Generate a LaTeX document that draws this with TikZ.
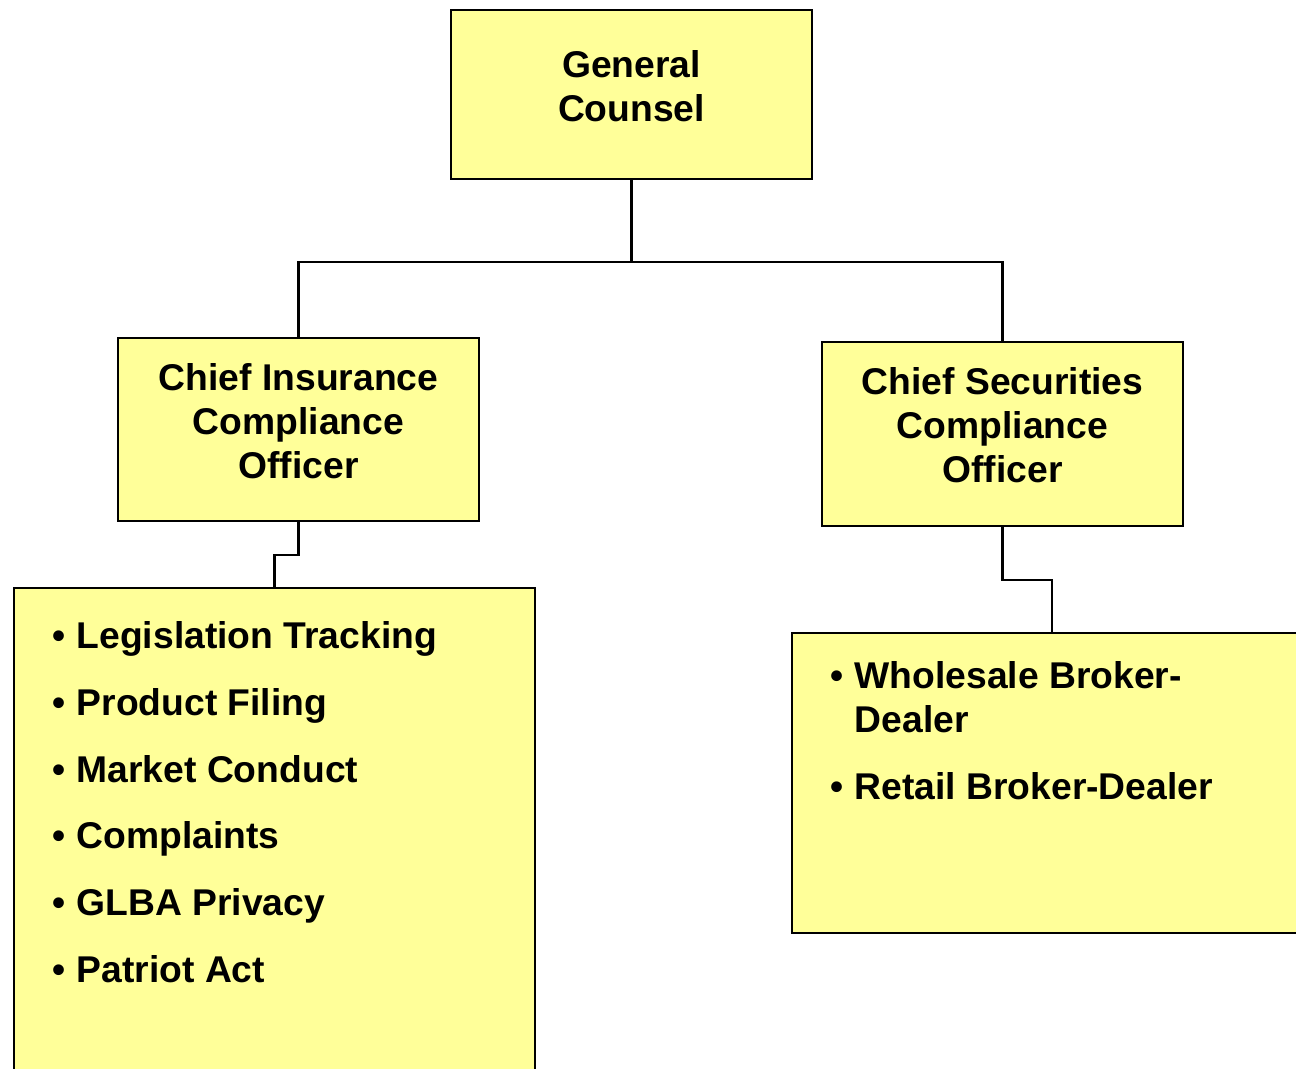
\documentclass[tikz,border=0pt]{standalone}
\usepackage{fontspec}
\setmainfont{Liberation Sans}
\usetikzlibrary{calc}

\definecolor{boxyellow}{HTML}{FFFF99}
\newcommand{\chartfont}{\bfseries\fontsize{10.6pt}{12.5pt}\selectfont}

\tikzset{
  officebox/.style={draw=black, fill=boxyellow, line width=0.6pt, align=center,
    minimum width=3.61cm, inner sep=0pt, text depth=5pt, font=\chartfont},
  listbox/.style={draw=black, fill=boxyellow, line width=0.6pt, inner sep=0pt},
  listtext/.style={anchor=base west, inner sep=0pt, align=left, font=\chartfont},
  link/.style={draw=black, line width=0.6pt}
}

\begin{document}
\begin{tikzpicture}[y=-1cm]
\useasboundingbox (0,0) rectangle (12.96,10.69);
\clip (0,0) rectangle (12.96,10.69);
% the three offices
\node[officebox, minimum height=1.69cm] (gc) at (6.315,0.945) {General\\Counsel};
\node[officebox, minimum height=1.83cm] (cico) at (2.985,4.295) {Chief Insurance\\Compliance\\Officer};
\node[officebox, minimum height=1.84cm] (csco) at (10.025,4.34) {Chief Securities\\Compliance\\Officer};
% duty lists
\node[listbox, minimum width=5.21cm, minimum height=5.12cm] (listL) at (2.745,8.44) {};
\node[listbox, minimum width=5.20cm, minimum height=3.00cm] (listR) at (10.52,7.83) {};
\node[listtext] (itemsL) at (0.52,6.485) {%
  \begin{tabular}[t]{@{}p{0.24cm}@{}l@{}}
  \textbullet & Legislation Tracking\\[6.5pt]
  \textbullet & Product Filing\\[6.5pt]
  \textbullet & Market Conduct\\[6.5pt]
  \textbullet & Complaints\\[6.5pt]
  \textbullet & GLBA Privacy\\[6.5pt]
  \textbullet & Patriot Act
  \end{tabular}};
\node[listtext] (itemsR) at (8.30,6.89) {%
  \begin{tabular}[t]{@{}p{0.24cm}@{}l@{}}
  \textbullet & Wholesale Broker-\\
              & Dealer\\[6.5pt]
  \textbullet & Retail Broker-Dealer
  \end{tabular}};
% connectors
\coordinate (split) at ($(gc.south)+(0,0.82)$);
\draw[link] (gc.south) -- (split) -| (cico.north);
\draw[link] (split) -| (csco.north);
\draw[link] (cico.south) -- ++(0,0.33) -| (listL.north);
\draw[link] (csco.south) -- ++(0,0.53) -| (listR.north);
\end{tikzpicture}
\end{document}
